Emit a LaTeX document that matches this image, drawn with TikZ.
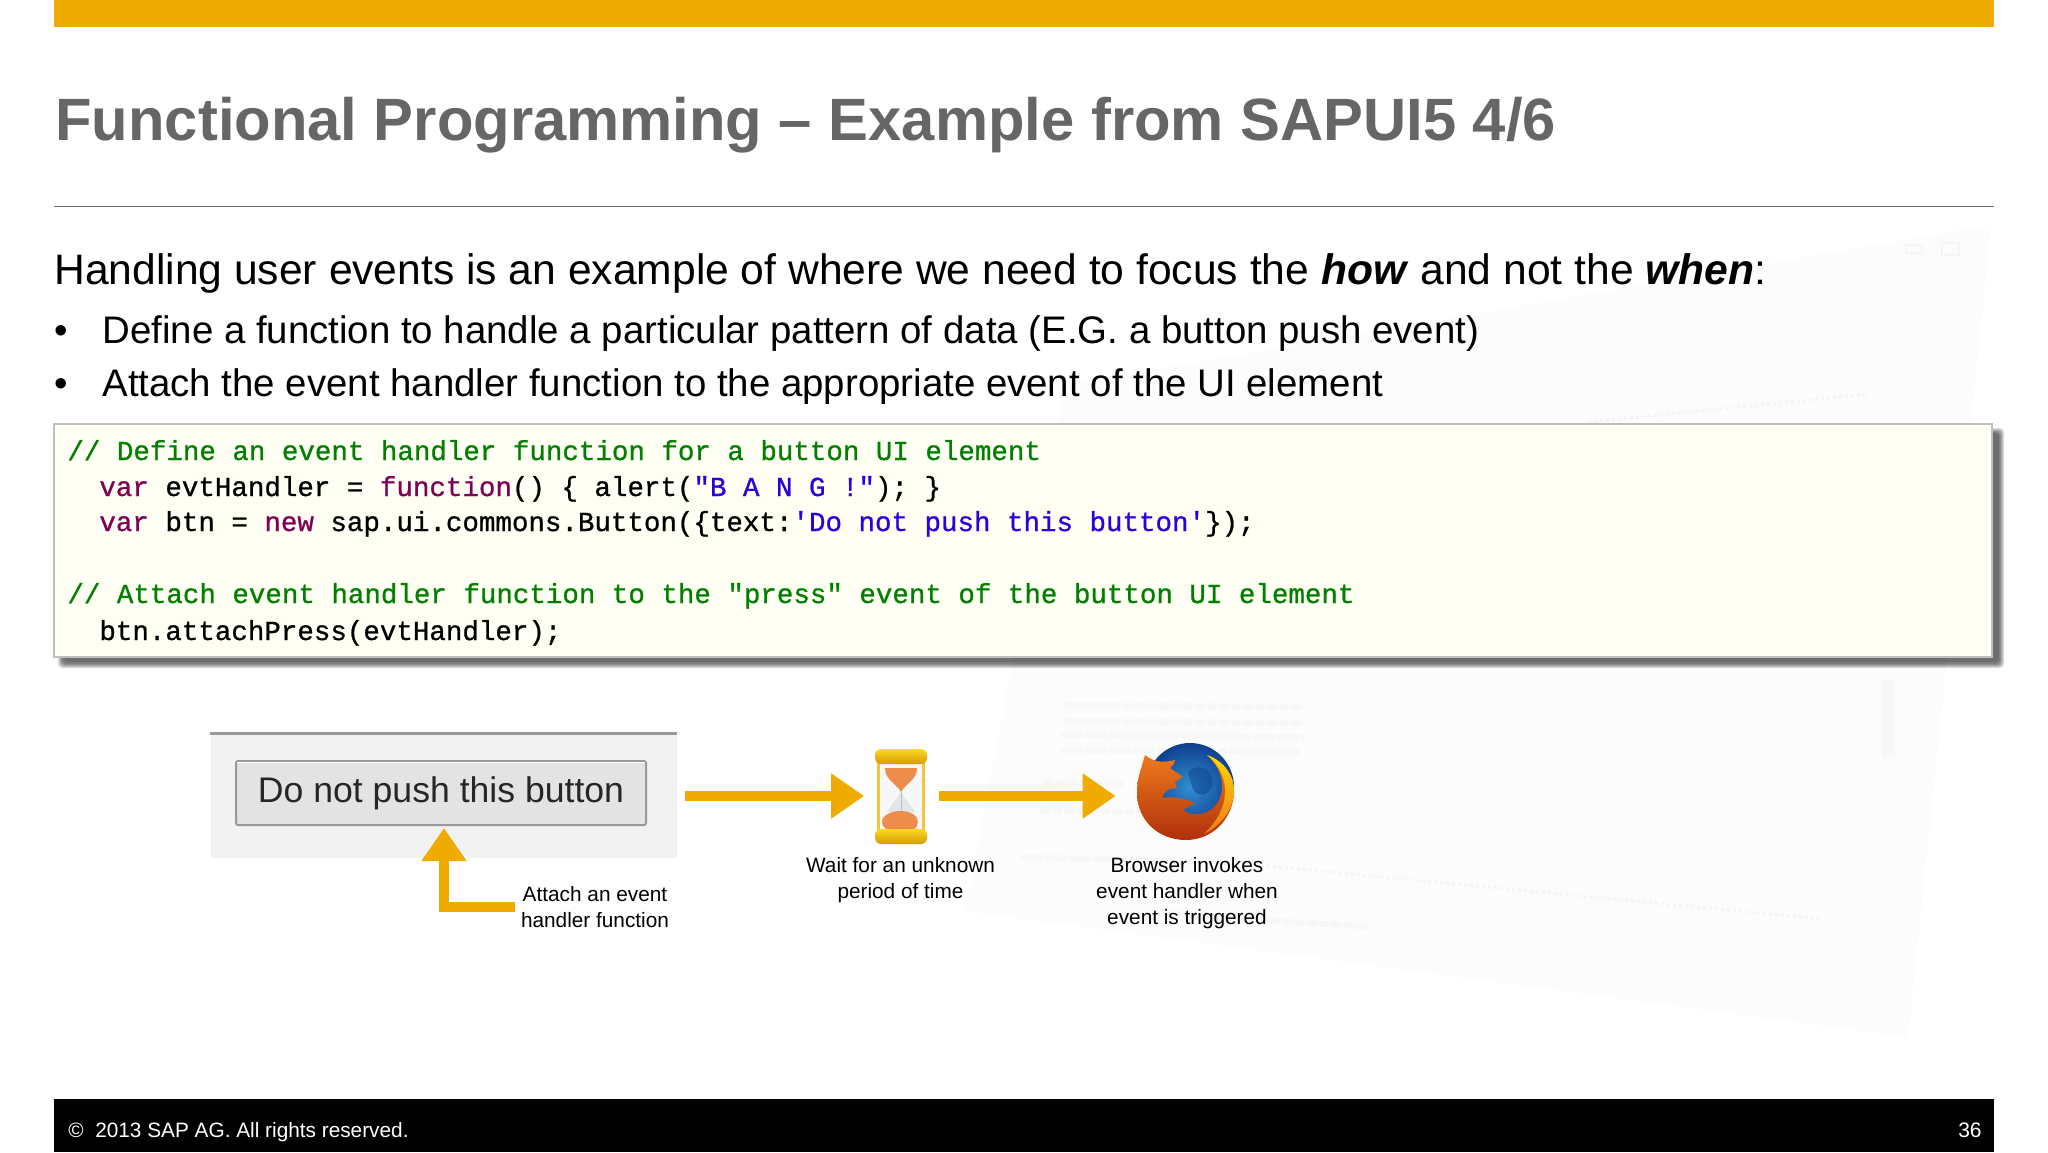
\documentclass[tikz,border=0pt]{standalone}
\usepackage{fontspec}
\setmainfont{Liberation Sans}
\setmonofont[FakeBold=0.8]{Liberation Mono}
\usetikzlibrary{arrows.meta,positioning}
\definecolor{sapgold}{HTML}{F0AB00}
\definecolor{titlegray}{HTML}{666666}
\definecolor{codegreen}{HTML}{007F00}
\definecolor{codepurple}{HTML}{7F0055}
\definecolor{codeblue}{HTML}{2A00E0}
\definecolor{codefill}{HTML}{FFFFF3}
\definecolor{sandorange}{HTML}{EE8C4A}
\definecolor{capgold}{HTML}{F7C23C}
\definecolor{foxorange}{HTML}{EE7A1E}
\definecolor{foxred}{HTML}{B0300A}
\definecolor{globelight}{HTML}{2F8FD2}
\definecolor{globedark}{HTML}{10408F}
\tikzset{
	goldarrow/.style={draw=sapgold, line width=5pt, -{Triangle[width=21.5pt,length=16.5pt]}},
	bodytext/.style={anchor=base west, inner sep=0pt, font=\fontsize{19.2}{24}\selectfont},
	codetext/.style={anchor=base west, inner sep=0pt, font=\fontsize{13.75}{16}\ttfamily},
	smalltext/.style={align=center, inner sep=0pt, font=\fontsize{10.4}{13}\selectfont},
	ghostrow/.style={draw=black!3, line width=3pt, dash pattern=on 5pt off 1pt},
	ghostdots/.style={draw=black!4, line width=1.5pt, dash pattern=on 1.5pt off 1.5pt},
	boxshadow/.style={fill=black, opacity=0.13, rounded corners=2pt},
	capshade/.style={top color=capgold!60!yellow, bottom color=sapgold!90!black, rounded corners=3pt},
}
\begin{document}
\begin{tikzpicture}[x=0.5pt, y=-0.5pt]
		%%%%% PAGE %%%%%
		\useasboundingbox (0, 0) rectangle (2048, 1152);
		\fill[white] (0, 0) rectangle (2048, 1152);
		
		% faded window behind the slide
		\fill[black!1] (1065, 385) -- (1991, 225) -- (1908, 1037) -- (965, 911) -- cycle;
		\draw[black!4, line width=0.8pt] (1906, 245) rectangle (1922, 253);
		\draw[black!4, line width=0.8pt] (1942, 243) rectangle (1959, 255);
		\draw[ghostdots] (1588, 422) -- (1869, 394);
		\draw[ghostdots] (1267, 866) -- (1822, 919);
		\draw[ghostrow] (1063, 705) -- (1304, 707);
		\draw[ghostrow] (1063, 721) -- (1304, 723);
		\draw[ghostrow] (1061, 735) -- (1304, 737);
		\draw[ghostrow] (1061, 750) -- (1300, 752);
		\draw[ghostrow] (1044, 783) -- (1124, 784);
		\draw[ghostrow] (1040, 810) -- (1140, 812);
		\draw[ghostrow] (1021, 857) -- (1200, 862);
		\draw[ghostrow] (1163, 913) -- (1369, 927);
		\fill[black!3] (1882, 680) rectangle (1895, 757);
		
		%%%%% HEADER %%%%%
		\fill[sapgold] (54, 0) rectangle (1994, 27);
		\node[anchor=base west, inner sep=0pt, text=titlegray, font=\fontsize{29.87}{36}\bfseries] (title) at (55, 140.5) {Functional Programming – Example from SAPUI5 4/6};
		\draw[black!60, line width=0.8pt] (54, 206.5) -- (1994, 206.5);
		
		\node[bodytext, font=\fontsize{21.3}{26}\selectfont] (lead) at (54, 284) {Handling user events is an example of where we need to focus the \textbf{\textit{how}} and not the \textbf{\textit{when}}:};
		\node[bodytext] (bulletone) at (54, 343.5) {•};
		\node[bodytext] (lineone) at (102, 343.5) {Define a function to handle a particular pattern of data (E.G. a button push event)};
		\node[bodytext] (bullettwo) at (54, 396.5) {•};
		\node[bodytext] (linetwo) at (102, 396.5) {Attach the event handler function to the appropriate event of the UI element};
		
		%%%%% CODE %%%%%
		\fill[boxshadow] (58, 428) rectangle (2004, 668);
		\fill[boxshadow] (59, 429) rectangle (2003, 667);
		\fill[boxshadow] (60, 430) rectangle (2002, 666);
		\fill[boxshadow] (61, 431) rectangle (2001, 665);
		\fill[boxshadow] (62, 432) rectangle (2000, 664);
		\fill[boxshadow] (64, 433) rectangle (1999, 662);
		\draw[black!25, fill=codefill, line width=1pt] (54, 424) rectangle (1992, 657);
		
		\node[codetext, text=codegreen] (codeone) at (67, 460) {// Define an event handler function for a button UI element};
		\node[codetext] (codetwo) at (99, 496) {\textcolor{codepurple}{var} evtHandler = \textcolor{codepurple}{function}() \{ alert(\textcolor{codeblue}{"B A N G !"}); \}};
		\node[codetext] (codethree) at (99, 531) {\textcolor{codepurple}{var} btn = \textcolor{codepurple}{new} sap.ui.commons.Button(\{text:\textcolor{codeblue}{'Do not push this button'}\});};
		\node[codetext, text=codegreen] (codefour) at (67, 603) {// Attach event handler function to the "press" event of the button UI element};
		\node[codetext] (codefive) at (99, 640) {btn.attachPress(evtHandler);};
		
		%%%%% FLOW %%%%%
		\node[minimum width=233pt, minimum height=62pt, inner sep=0pt, fill=black!5] (panel) at (443.5, 796) {};
		\draw[black!40, line width=1.2pt] (panel.north west) -- (panel.north east);
		\node[minimum width=205pt, minimum height=32pt, inner sep=0pt, draw=black!40, fill=black!11, line width=1pt, rounded corners=1pt, text=black!85, font=\fontsize{17.8}{20}\selectfont] (button) at (441, 793) {\raisebox{-1pt}{Do not push this button}};
		\draw[white, line width=0.8pt] ([xshift=1pt, yshift=-1.2pt]button.north west) -- ([xshift=-1pt, yshift=-1.2pt]button.north east);
		
		\node[minimum width=26pt, minimum height=47.5pt, inner sep=0pt] (glass) at (900.5, 796) {};
		\node[circle, minimum size=48pt, inner sep=0pt] (fox) at (1186, 792) {};
		
		\draw[goldarrow, shorten <=4pt, shorten >=5pt] (panel.east) -- (glass.west);
		\draw[goldarrow, shorten <=6pt, shorten >=11pt] (glass.east) -- (glass.east -| fox.west);
		
		\node[smalltext] (attachlabel) at (595, 907) {Attach an event\\handler function};
		\node[smalltext] (waitlabel) at (900.5, 880) {Wait for an unknown\\period of time};
		\node[smalltext] (foxlabel) at (1187, 893) {Browser invokes\\event handler when\\event is triggered};
		
		\coordinate (attachtip) at (444, 828);
		\draw[goldarrow] (515, 906.5) -| (attachtip);
		
		% hourglass
		\fill[black!3] (880, 762) rectangle (922, 832);
		\fill[cyan!30!black!14] (887, 812) -- (901, 792) -- (915, 812) -- cycle;
		\fill[sandorange] (885, 768) -- (917, 768) .. controls (917, 780) and (905, 784) .. (901, 792) .. controls (897, 784) and (885, 780) .. (885, 768) -- cycle;
		\fill[sandorange] (882, 822) .. controls (882, 815) and (892, 811) .. (900, 811) .. controls (910, 811) and (918, 815) .. (918, 822) .. controls (918, 829) and (910, 833) .. (900, 833) .. controls (892, 833) and (882, 829) .. (882, 822) -- cycle;
		\draw[black!25, line width=0.5pt] (901, 792) -- (901, 811);
		\fill[capgold] (877, 762) rectangle (880, 832);
		\fill[capgold] (922, 762) rectangle (925, 832);
		\shade[capshade] (875, 749) rectangle (927, 764);
		\shade[capshade] (875, 829) rectangle (927, 844);
		
		% browser globe
		\shade[inner color=globelight, outer color=globedark] (1190, 787) circle (44);
		\fill[globedark, opacity=0.5] (1188, 772) .. controls (1200, 760) and (1216, 772) .. (1212, 786) .. controls (1206, 800) and (1194, 795) .. (1192, 786) -- cycle;
		\shade[top color=foxorange, bottom color=foxred] (1145, 755) .. controls (1156, 764) and (1166, 762) .. (1175, 760) .. controls (1174, 765) and (1172, 766) .. (1170, 768) -- (1183, 777) -- (1175, 782) -- (1177, 788) .. controls (1170, 788) and (1165, 790) .. (1162, 798) .. controls (1172, 796) and (1184, 798) .. (1195, 803) -- (1183, 810) .. controls (1190, 816) and (1204, 816) .. (1213, 808) .. controls (1226, 796) and (1226, 772) .. (1207, 755) .. controls (1226, 762) and (1235, 778) .. (1234, 793) .. controls (1232, 822) and (1210, 840) .. (1186, 840) .. controls (1158, 840) and (1137, 820) .. (1137, 793) .. controls (1137, 785) and (1138, 778) .. (1140, 772) -- cycle;
		\shade[top color=yellow!70!orange, bottom color=foxorange] (1207, 755) .. controls (1226, 762) and (1235, 778) .. (1234, 793) .. controls (1232, 812) and (1220, 826) .. (1204, 834) .. controls (1216, 822) and (1226, 808) .. (1225, 788) .. controls (1224, 774) and (1216, 762) .. (1207, 755) -- cycle;
		
		%%%%% FOOTER %%%%%
		\fill[black] (54, 1099) rectangle (1994, 1152);
		\node[anchor=base west, inner sep=0pt, text=white, font=\fontsize{10.4}{13}\selectfont] (copyright) at (68, 1137) {©\ \ 2013 SAP AG. All rights reserved.};
		\node[anchor=base east, inner sep=0pt, text=white, font=\fontsize{10.5}{13}\selectfont] (pagenum) at (1982, 1137) {36};
		
		%%%%% END %%%%%
	\end{tikzpicture}
\end{document}
